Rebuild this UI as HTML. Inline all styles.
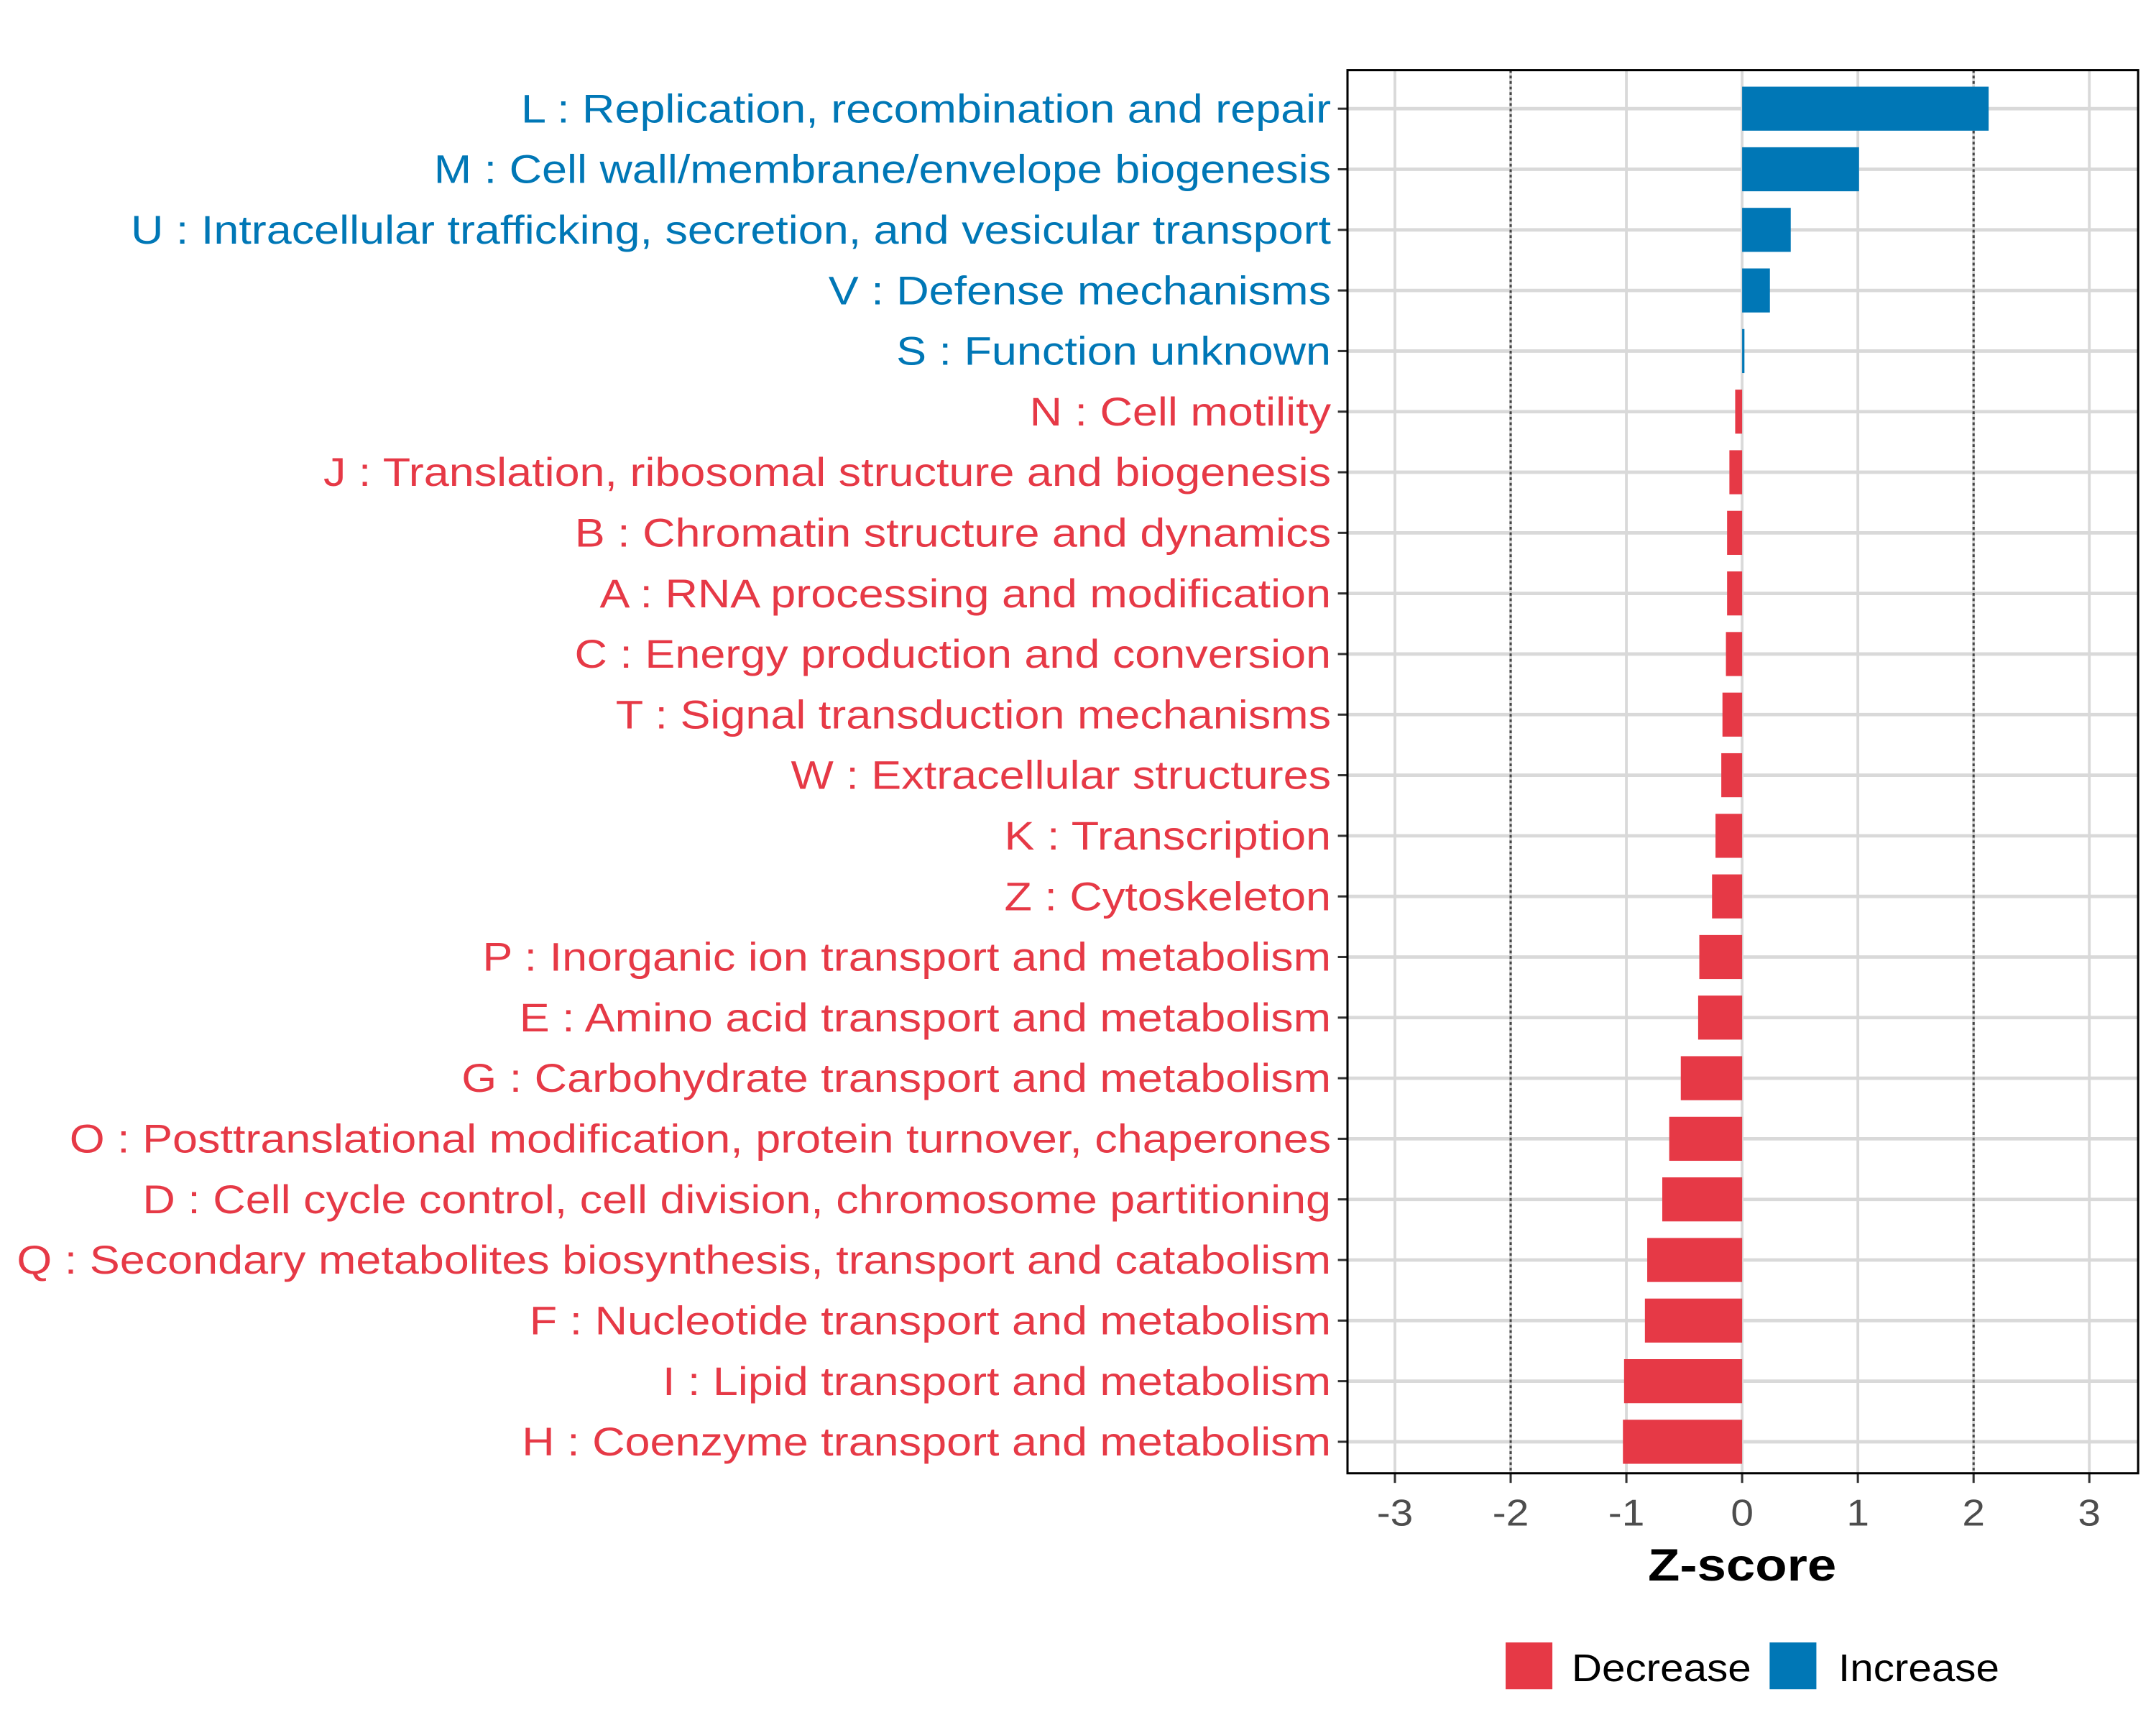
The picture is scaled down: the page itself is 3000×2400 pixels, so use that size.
<!DOCTYPE html>
<html><head><meta charset="utf-8"><style>
html,body{margin:0;padding:0;background:#fff;}
svg{display:block;}
text{font-family:"Liberation Sans",Arial,sans-serif;}
</style></head><body>
<svg id="chart" width="3000" height="2400" viewBox="0 0 1568 1254" preserveAspectRatio="none" xmlns="http://www.w3.org/2000/svg">
<g id="grid"></g>
<g id="bars"></g>
<g id="ylabels"></g>
<g id="xaxis"></g>
<rect x="980" y="51" width="575" height="1020" fill="none" stroke="#000" stroke-width="1.6"/>
<text transform="translate(1267,1149) scale(1.15,1)" x="0" y="0" text-anchor="middle" font-size="33" font-weight="bold" fill="#000">Z-score</text>
<g>
<rect x="1095" y="1194" width="34" height="34" fill="#E63946"/>
<text transform="translate(1143,1222) scale(1.09,1)" x="0" y="0" font-size="28" fill="#000">Decrease</text>
<rect x="1287" y="1194" width="34" height="34" fill="#0077B6"/>
<text transform="translate(1337,1222) scale(1.09,1)" x="0" y="0" font-size="28" fill="#000">Increase</text>
</g>
</svg>
<script>
const categories = ["L : Replication, recombination and repair","M : Cell wall/membrane/envelope biogenesis","U : Intracellular trafficking, secretion, and vesicular transport","V : Defense mechanisms","S : Function unknown","N : Cell motility","J : Translation, ribosomal structure and biogenesis","B : Chromatin structure and dynamics","A : RNA processing and modification","C : Energy production and conversion","T : Signal transduction mechanisms","W : Extracellular structures","K : Transcription","Z : Cytoskeleton","P : Inorganic ion transport and metabolism","E : Amino acid transport and metabolism","G : Carbohydrate transport and metabolism","O : Posttranslational modification, protein turnover, chaperones","D : Cell cycle control, cell division, chromosome partitioning","Q : Secondary metabolites biosynthesis, transport and catabolism","F : Nucleotide transport and metabolism","I : Lipid transport and metabolism","H : Coenzyme transport and metabolism"];
const zscores = [2.13,1.01,0.42,0.24,0.02,-0.06,-0.11,-0.13,-0.13,-0.14,-0.17,-0.18,-0.23,-0.26,-0.37,-0.38,-0.53,-0.63,-0.69,-0.82,-0.84,-1.02,-1.03];
const xTicks = [-3,-2,-1,0,1,2,3];
const xTickLabels = ["-3","-2","-1","0","1","2","3"];
const refLines = [-2,2];

const NS="http://www.w3.org/2000/svg";
const X0=1267, UNIT=84.17, Y0=79, STEP=44.05, BARH=32, PL=980, PR=1555, PT=51, PB=1071;
function xs(v){return X0+v*UNIT;}
function ys(i){return Y0+i*STEP;}
function mk(tag,attrs,parent){const e=document.createElementNS(NS,tag);for(const k in attrs)e.setAttribute(k,attrs[k]);parent.appendChild(e);return e;}
const grid=document.getElementById('grid'),bars=document.getElementById('bars'),yl=document.getElementById('ylabels'),xa=document.getElementById('xaxis');
xTicks.forEach((t,i)=>{
  const l=mk('line',{x1:xs(t),x2:xs(t),y1:PT,y2:PB,stroke:'#d9d9d9','stroke-width':2},grid);
  
  
  const tk=mk('line',{x1:xs(t),x2:xs(t),y1:PB,y2:PB+7,stroke:'#333','stroke-width':1.6},xa);
  
  
  const tx=mk('text',{x:0,y:0,transform:'translate('+xs(t)+',1109) scale(1.1,1)','text-anchor':'middle','font-size':27,fill:'#4d4d4d'},xa);
  tx.textContent=xTickLabels[i];
  
  
});
categories.forEach((c,i)=>{
  const g=mk('line',{x1:PL,x2:PR,y1:ys(i),y2:ys(i),stroke:'#d9d9d9','stroke-width':2.5},grid);
  
  
});
refLines.forEach(r=>{
  const l=mk('line',{x1:xs(r),x2:xs(r),y1:PT,y2:PB,stroke:'#444','stroke-width':1.6,'stroke-dasharray':'2,2'},grid);
  
  
});
categories.forEach((c,i)=>{
  const v=zscores[i], col=v>=0?'#0077B6':'#E63946';
  const b=mk('rect',{x:Math.min(xs(0),xs(v)),y:ys(i)-BARH/2,width:Math.max(Math.abs(xs(v)-xs(0)),1.5),height:BARH,fill:col},bars);
  
  
  const tk=mk('line',{x1:973,x2:980,y1:ys(i),y2:ys(i),stroke:'#333','stroke-width':1.6},yl);
  
  
  const t=mk('text',{x:0,y:0,transform:'translate(968,'+(ys(i)+10)+') scale(1.134,1)','text-anchor':'end','font-size':29,fill:col},yl);
  t.textContent=c;
  
  
});
</script>
</body></html>
